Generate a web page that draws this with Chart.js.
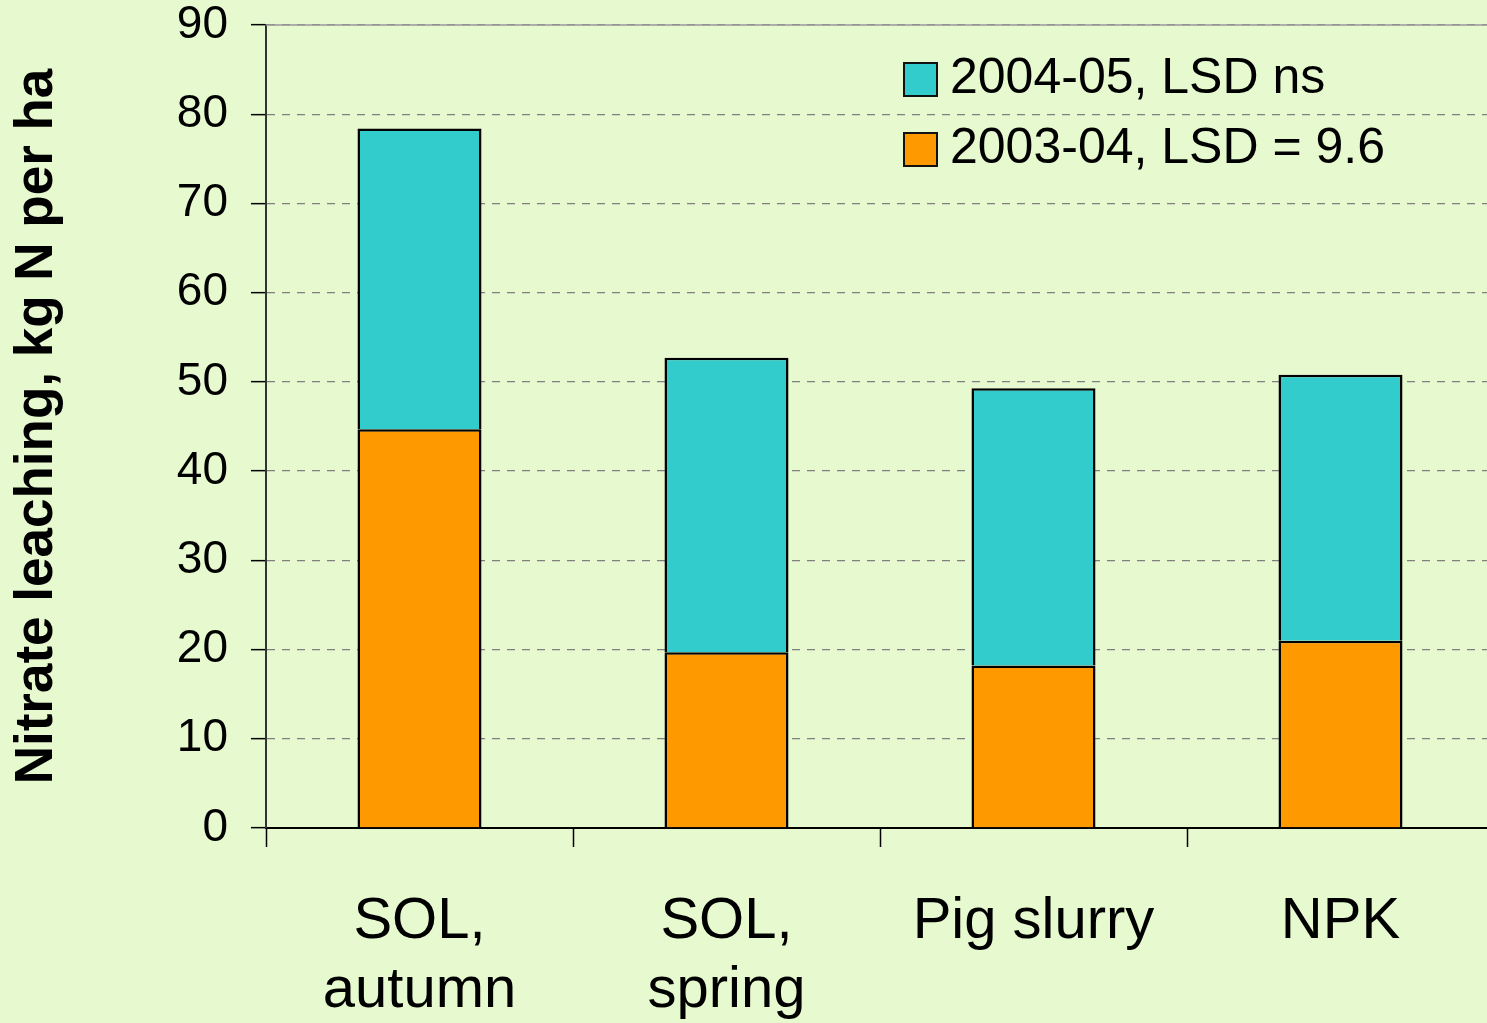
<!DOCTYPE html>
<html>
<head>
<meta charset="utf-8">
<script src="https://cdn.jsdelivr.net/npm/chart.js@4.4.1/dist/chart.umd.min.js"></script>
<style>
  html, body { margin: 0; padding: 0; overflow: hidden; background: #E6F9CF; }
  #wrap { position: absolute; left: 0; top: 0; width: 1494px; height: 1025px; }
  #legend { position: absolute; left: 903px; top: 41px; font-family: "Liberation Sans", Arial, sans-serif; font-size: 50px; line-height: 70px; color: #000; }
  .row { position: relative; height: 70px; padding-left: 47px; white-space: nowrap; }
  .box { position: absolute; left: 0; top: 21px; width: 31px; height: 31px; border: 2px solid #111; }
</style>
</head>
<body>
<div id="wrap"><canvas id="chart"></canvas></div>
<div id="legend"></div>
<script>
const categories = [["SOL,", "autumn"], ["SOL,", "spring"], "Pig slurry", "NPK"];
const leach2003 = [44.7, 19.7, 18.2, 21.0];
const leach2004 = [33.7, 33.0, 31.1, 29.8];
const seriesLabels = ["2003-04, LSD = 9.6", "2004-05, LSD ns"];
const seriesColors = ["#FF9900", "#33CCCC"];
const yTicks = [0, 10, 20, 30, 40, 50, 60, 70, 80, 90];

const font = "'Liberation Sans', Arial, sans-serif";

// solid frame line along the top of the plot
const topLine = {
  id: "topLine",
  afterDraw(chart) {
    const { ctx, chartArea } = chart;
    ctx.save();
    ctx.strokeStyle = "#999";
    ctx.lineWidth = 1.5;
    ctx.beginPath();
    ctx.moveTo(chartArea.left, chartArea.top);
    ctx.lineTo(chartArea.right, chartArea.top);
    ctx.stroke();
    ctx.restore();
  }
};

const ctx = document.getElementById("chart").getContext("2d");
new Chart(ctx, {
  type: "bar",
  data: {
    labels: categories,
    datasets: [
      { label: seriesLabels[0], data: leach2003, backgroundColor: seriesColors[0], borderColor: "#000", borderWidth: 2.5 },
      { label: seriesLabels[1], data: leach2004, backgroundColor: seriesColors[1], borderColor: "#000", borderWidth: 2.5 }
    ]
  },
  options: {
    responsive: true,
    maintainAspectRatio: false,
    animation: false,
    layout: { padding: { top: 25, right: 0, left: 0, bottom: 0 } },
    datasets: { bar: { categoryPercentage: 1, barPercentage: 0.404 } },
    plugins: { legend: { display: false }, tooltip: { enabled: false } },
    scales: {
      x: {
        stacked: true,
        afterFit(scale) { scale.height = 197; },
        grid: { offset: true, drawOnChartArea: false, tickLength: 19, tickColor: "#000", tickWidth: 1.5 },
        border: { display: true, color: "#000", width: 2 },
        ticks: { color: "#000", padding: 41, maxRotation: 0, autoSkip: false, font: { family: font, size: 58, lineHeight: 1.18 } }
      },
      y: {
        stacked: true,
        min: 0,
        max: 90,
        afterFit(scale) { scale.width = 266; scale.paddingTop = 0; scale.paddingBottom = 0; },
        afterBuildTicks(scale) { scale.ticks = yTicks.map(v => ({ value: v })); },
        grid: {
          color: ctx => ctx.tick && ctx.tick.value === 0 ? "rgba(0,0,0,0)" : "#808080",
          lineWidth: 1.3,
          tickLength: 15,
          tickColor: "#000",
          tickWidth: 1.5
        },
        border: { display: true, color: "#333", width: 2, dash: [8, 7] },
        ticks: { color: "#000", padding: 23, font: { family: font, size: 46, lineHeight: 1 } },
        title: {
          display: true,
          text: "Nitrate leaching, kg N per ha",
          color: "#000",
          padding: { top: 11, bottom: 0 },
          font: { family: font, size: 53, weight: "bold", lineHeight: 1 }
        }
      }
    }
  },
  plugins: [topLine]
});

// legend, listed top-down like the stack
const legend = document.getElementById("legend");
for (let i = seriesLabels.length - 1; i >= 0; i--) {
  const row = document.createElement("div");
  row.className = "row";
  row.innerHTML = `<span class="box" style="background:${seriesColors[i]}"></span>${seriesLabels[i]}`;
  legend.appendChild(row);
}
</script>
</body>
</html>
